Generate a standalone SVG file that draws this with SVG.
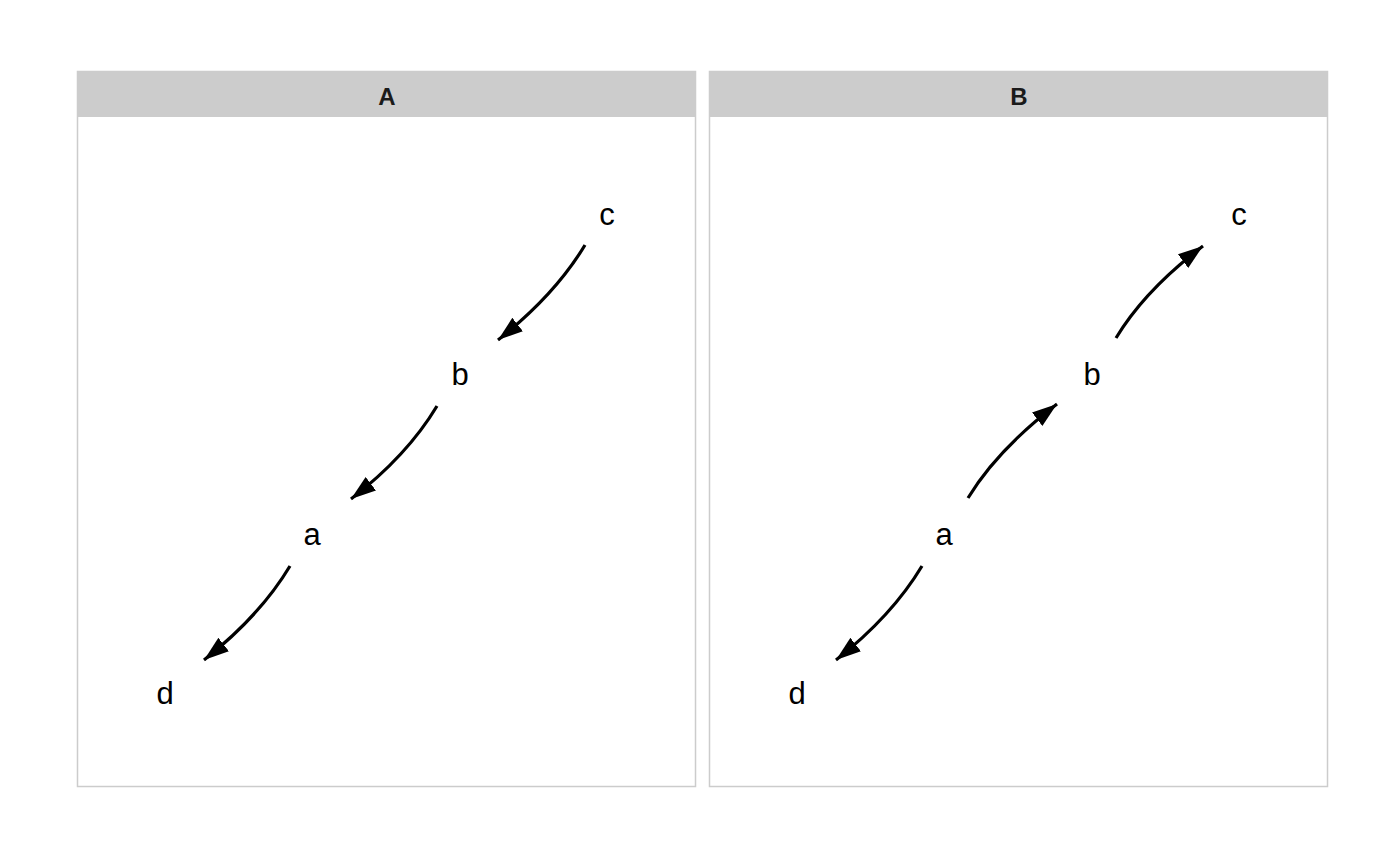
<svg xmlns="http://www.w3.org/2000/svg" width="1400" height="865" viewBox="0 0 1400 865">
<style>
.panel{fill:#ffffff;stroke:#cccccc;stroke-width:1.5}
.strip{fill:#cccccc}
.title{font-family:"Liberation Sans",Arial,sans-serif;font-size:24px;font-weight:bold;fill:#1a1a1a;text-anchor:middle}
.lbl{font-family:"Liberation Sans",Arial,sans-serif;font-size:31px;fill:#000000;text-anchor:middle}
.edge{fill:none;stroke:#000000;stroke-width:3.2;marker-end:url(#ah)}
</style>
<defs>
<marker id="ah" markerUnits="userSpaceOnUse" markerWidth="28" markerHeight="22" viewBox="0 0 28 22" refX="25" refY="11" orient="auto">
<path d="M0,2.5 L25,11 L0,19.5 Z" fill="#000000"/>
</marker>
</defs>
<rect width="1400" height="865" fill="#ffffff"/>
<g id="panelA">
<rect class="panel" x="77.5" y="71.5" width="618" height="715"/>
<rect class="strip" x="77" y="71" width="619" height="46"/>
<text class="title" x="387" y="105">A</text>
</g>
<g id="panelB">
<rect class="panel" x="709.5" y="71.5" width="618" height="715"/>
<rect class="strip" x="709" y="71" width="619" height="46"/>
<text class="title" x="1019" y="105">B</text>
</g>
<g id="connectors">
<path class="edge" d="M585,245 Q555,295 498,340"/>
<path class="edge" d="M437,406 Q407,456 351,499"/>
<path class="edge" d="M290,566 Q260,616 204,660"/>
<path class="edge" d="M1116,338 Q1145,290 1203,246"/>
<path class="edge" d="M968,498 Q997,450 1057,404"/>
<path class="edge" d="M922,566 Q892,616 836,660"/>
</g>
<g id="A_c"><text class="lbl" x="607" y="225">c</text></g>
<g id="A_b"><text class="lbl" x="460" y="385">b</text></g>
<g id="A_a"><text class="lbl" x="312" y="545">a</text></g>
<g id="A_d"><text class="lbl" x="165" y="704">d</text></g>
<g id="B_c"><text class="lbl" x="1239" y="225">c</text></g>
<g id="B_b"><text class="lbl" x="1092" y="385">b</text></g>
<g id="B_a"><text class="lbl" x="944" y="545">a</text></g>
<g id="B_d"><text class="lbl" x="797" y="704">d</text></g>
</svg>
